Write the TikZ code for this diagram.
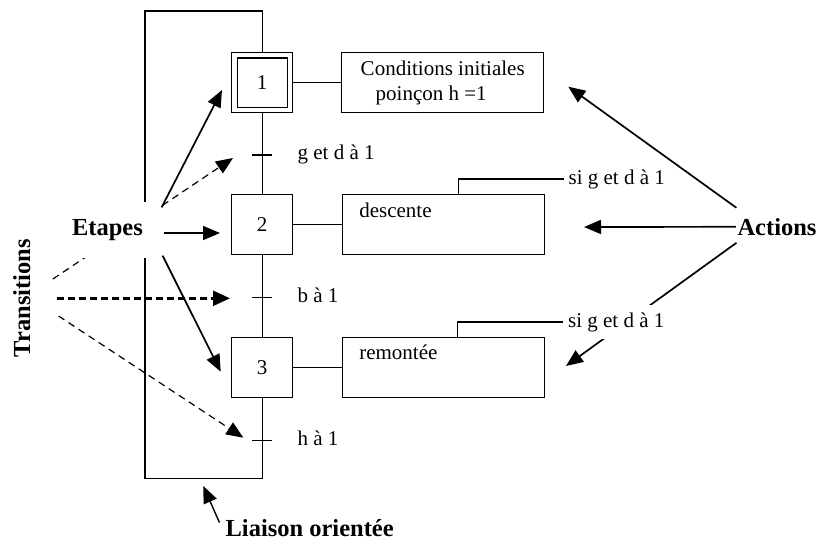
\documentclass[tikz,border=0pt]{standalone}
\usepackage{fontspec}
\setmainfont{Liberation Serif}
\usetikzlibrary{arrows.meta}
\begin{document}
\begin{tikzpicture}[x=1pt,y=-1pt,
  line width=1.2pt,
  every node/.style={font=\fontsize{21}{25}\selectfont},
  stepbox/.style={draw, minimum width=61pt, minimum height=60pt, inner sep=0pt},
  actbox/.style={draw, minimum width=202pt, minimum height=60pt, inner sep=0pt},
  big/.style={font=\fontsize{24.5}{28}\selectfont\bfseries, inner sep=0pt},
  cond/.style={fill=white, inner sep=4.5pt, minimum height=34pt, anchor=west},
  tlabel/.style={anchor=base west, inner sep=0pt},
  pointer/.style={line width=1.7pt, -{Triangle[length=17pt,width=14pt]}},
  thindash/.style={line width=1.2pt, dash pattern=on 7pt off 5pt, -{Triangle[length=17pt,width=14pt]}},
  thickdash/.style={line width=2.4pt, dash pattern=on 7pt off 4pt, -{Triangle[length=17pt,width=15pt]}},
]
\useasboundingbox (0,0) rectangle (822,544);

% --- steps of the grafcet
\node[stepbox] (s1) at (262.2,82.5) {1};
\draw ([shift={(6,6)}]s1.north west) rectangle ([shift={(-6,-6)}]s1.south east);
\node[stepbox] (s2) at (262.2,224.6) {2};
\node[stepbox] (s3) at (262.2,367.5) {3};

% --- transitions
\coordinate (t1) at (262.2,155);
\coordinate (t2) at (262.2,297.7);
\coordinate (t3) at (262.2,440.7);
\draw (s1.south) -- (s2.north);
\draw (s2.south) -- (s3.north);
\foreach \t in {t1,t2,t3}
  \draw ([xshift=-10]\t) -- ([xshift=10]\t);
\node[tlabel] (t1l) at (297,159.5) {g et d à 1};
\node[tlabel] (t2l) at (297,302) {b à 1};
\node[tlabel] (t3l) at (297,445) {h à 1};

% --- oriented link back to the initial step
\coordinate (lbr) at (262.2,478.5);
\coordinate (ltl) at (145,11);
\draw (s3.south) -- (lbr) -| (ltl) -| (s1.north);

% --- actions
\node[actbox, align=left] (a1) at (442.7,82.5) {Conditions initiales\\\hspace*{15pt}poinçon h =1};
\node[actbox] (a2) at (443.3,224.6) {};
\node[actbox] (a3) at (443.3,367.5) {};
\node[tlabel] (a2t) at ([shift={(17,23)}]a2.north west) {descente};
\node[tlabel] (a3t) at ([shift={(17,23)}]a3.north west) {remontée};
\draw (s1.east) -- (a1.west);
\draw (s2.east) -- (a2.west);
\draw (s3.east) -- (a3.west);

% --- Transitions label and its pointers
\node[big, rotate=90] (trans) at (21.7,298) {Transitions};
\coordinate (tt1) at (233,158);
\coordinate (tt2) at (230,298.3);
\coordinate (tt3) at (243.3,437.7);
\draw[thindash] ([shift={(22,-19)}]trans.south) -- (tt1);
\draw[thickdash] ([shift={(26,0.3)}]trans.south) -- (tt2);
\draw[thindash] ([shift={(27.6,18)}]trans.south) -- (tt3);

% --- Etapes label and its pointers
\node[big, fill=white, minimum width=111pt, minimum height=56pt] (etapes) at (107.5,230) {Etapes};
\coordinate (e1) at (222,90);
\coordinate (e2) at (220,233);
\coordinate (e3) at (220.7,371.7);
\draw[pointer] ([shift={(-2,6)}]etapes.north east) -- (e1);
\draw[pointer] ([shift={(0,3)}]etapes.east) -- (e2);
\draw[pointer] ([shift={(-1,-3)}]etapes.south east) -- (e3);

% --- Actions label and its pointers
\node[big] (actions) at (777,226.8) {Actions};
\coordinate (p1) at (568.3,86.7);
\coordinate (p2) at (584,227);
\coordinate (p3) at (566,366);
\draw[pointer] ([shift={(-0.5,-19)}]actions.west) -- (p1);
\draw[pointer] ([shift={(-1,0)}]actions.west) -- (p2);
\draw[pointer] ([shift={(-0.5,16)}]actions.west) -- (p3);

% --- conditional action tabs
\node[cond] (l2) at (563.5,179) {si g et d à 1};
\node[cond] (l3) at (563,322) {si g et d à 1};
\draw (l2.west) -| ([xshift=15]a2.north);
\draw (l3.west) -| ([xshift=14]a3.north);

% --- Liaison orientée label
\node[big, anchor=base west] (liaison) at (225,536.7) {Liaison orientée};
\coordinate (lp) at (203.3,486);
\draw[pointer, line width=1.4pt] ([shift={(-5.5,3.5)}]liaison.north west) -- (lp);
\end{tikzpicture}
\end{document}
